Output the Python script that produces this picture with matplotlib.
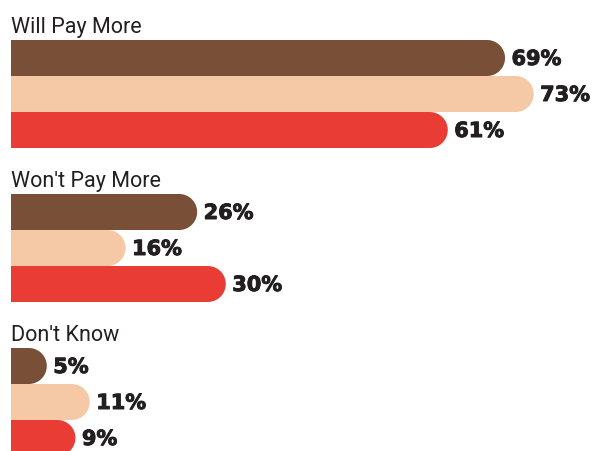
import numpy as np
import matplotlib.pyplot as plt
import matplotlib.patheffects as pe
from matplotlib.patches import Polygon

# Survey answers, one list of shares per group (three respondent segments)
groups = ["Will Pay More", "Won't Pay More", "Don't Know"]
segment_1 = [69, 26, 5]
segment_2 = [73, 16, 11]
segment_3 = [61, 30, 9]
colors = ["#7a4f37", "#f6c9a6", "#e83c34"]

W, H = 601, 452
PX_PER_PCT = 7.16      # horizontal scale
X0_PX = 11             # where bars start
BAR_H = 36
GROUP_TOP = 41
GROUP_STEP = 154

fig = plt.figure(figsize=(W / 100, H / 100), dpi=100)
ax = fig.add_axes([0, 0, 1, 1])
ax.set_xlim(-X0_PX / PX_PER_PCT, (W - X0_PX) / PX_PER_PCT)
ax.set_ylim(H, 0)
ax.axis("off")


def rounded_bar(ax, value, top, height, color):
    # square on the left, half-round cap on the right
    r_y = height / 2
    r_x = r_y / PX_PER_PCT
    r_x = min(r_x, value)
    cy = top + r_y
    t = np.linspace(-np.pi / 2, np.pi / 2, 40)
    arc_x = value - r_x + r_x * np.cos(t)
    arc_y = cy + r_y * np.sin(t)
    xs = np.concatenate([[0], arc_x, [0]])
    ys = np.concatenate([[top], arc_y, [top + height]])
    ax.add_patch(Polygon(np.column_stack([xs, ys]), closed=True,
                         facecolor=color, edgecolor="none"))


# thicken the bold labels a little
heavy = [pe.withStroke(linewidth=0.7, foreground="#231f20")]

series = [segment_1, segment_2, segment_3]
for g, name in enumerate(groups):
    gtop = GROUP_TOP + g * GROUP_STEP
    ax.text(0, gtop - 8, name, fontsize=15.5, color="#231f20",
            family=["DejaVu Sans Condensed", "Roboto"],
            ha="left", va="baseline")
    for i, vals in enumerate(series):
        v = vals[g]
        top = gtop + i * BAR_H
        rounded_bar(ax, v, top, BAR_H, colors[i])
        ax.text(v + 6.5 / PX_PER_PCT, top + BAR_H / 2 + 1, f"{v}%",
                fontsize=15, fontweight="bold", family="DejaVu Sans",
                color="#231f20", ha="left", va="center", path_effects=heavy)

fig.savefig("out.png", dpi=100)
